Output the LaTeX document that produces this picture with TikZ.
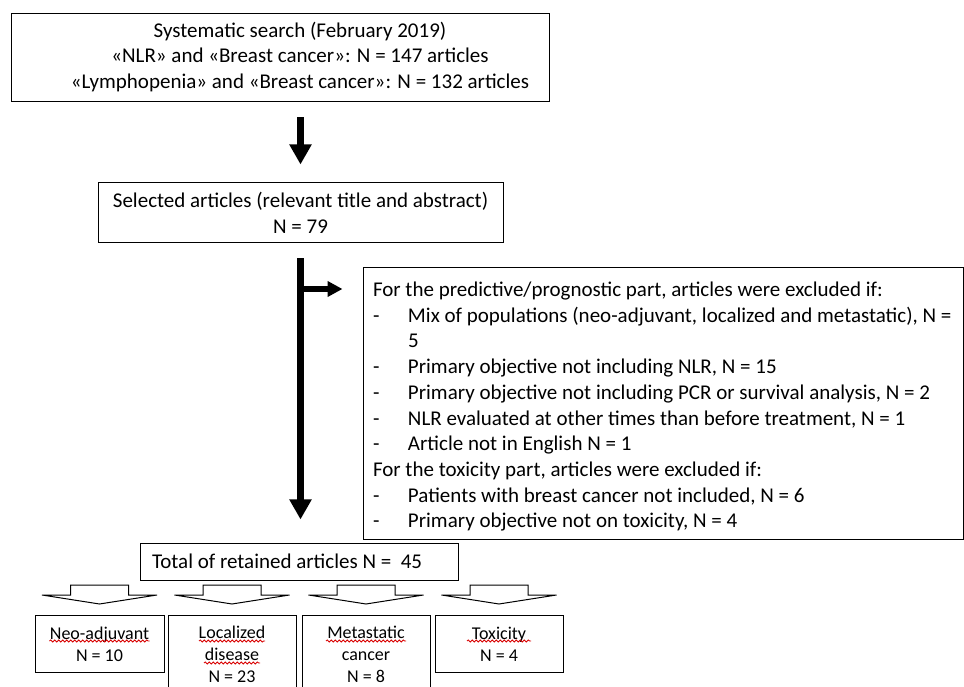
\documentclass[tikz,border=0pt]{standalone}
\usepackage{fontspec}
\setmainfont{Carlito}
\usetikzlibrary{positioning,arrows.meta,decorations.pathmorphing}
\tikzset{
	caja/.style={draw, line width=1pt, fill=white, font=\fontsize{21}{25.6}\selectfont,
		align=center, inner sep=0pt},
	texto/.style={font=\fontsize{21}{25.2}\selectfont, align=center, inner sep=0pt},
	criterio/.style={caja, align=flush left, text width=580pt, inner xsep=10pt,
		minimum height=271pt, font=\fontsize{21}{25.7}\selectfont},
	grupo/.style={draw, line width=1pt, fill=white, font=\fontsize{18}{22}\selectfont,
		align=center, inner sep=0pt, anchor=north},
	flecha/.style={line width=6.5pt, -{Triangle[length=20pt,width=21pt]}},
	flechita/.style={line width=6.5pt, -{Triangle[length=15pt,width=15pt]}},
	bloque/.style={line width=1pt, fill=white, line join=miter},
	falta/.style={red!85!black, line width=0.8pt, decorate,
		decoration={snake, amplitude=1.1pt, segment length=4pt}}
}
\newcommand{\guion}{\makebox[35pt][l]{-}}

\begin{document}
\begin{tikzpicture}[x=1pt, y=1pt]
	\useasboundingbox (0,0) rectangle (964,686);
	
	\node[caja, minimum width=538pt, minimum height=88pt] (busqueda) at (280,628) {};
	\node[texto] (busquedatxt) at ([xshift=20pt, yshift=1pt]busqueda.center)
		{Systematic search (February 2019)\\
		«NLR» and «Breast cancer»: N = 147 articles\\
		«Lymphopenia» and «Breast cancer»: N = 132 articles};
	\node[caja, minimum width=405pt, minimum height=60pt] (seleccion) at (300.5,473)
		{Selected articles (relevant title and abstract)\\ N = 79};
	\node[criterio, minimum width=600pt] (exclusion) at (663,282.5)
		{\rule{0pt}{21pt}For the predictive/prognostic part, articles were excluded if:\\
		\guion Mix of populations (neo-adjuvant, localized and metastatic), N =\\
		\hspace*{35pt}5\\
		\guion Primary objective not including NLR, N = 15\\
		\guion Primary objective not including PCR or survival analysis, N = 2\\
		\guion NLR evaluated at other times than before treatment, N = 1\\
		\guion Article not in English N = 1\\
		For the toxicity part, articles were excluded if:\\
		\guion Patients with breast cancer not included, N = 6\\
		\guion Primary objective not on toxicity, N = 4};
	\node[caja, align=flush left, text width=294pt, inner xsep=12pt, minimum height=37pt]
		(total) at (299,124.5) {Total of retained articles N = ~45};
	
	\node[grupo, minimum width=129pt, minimum height=57pt] (neo) at (99.5,71)
		{Neo-adjuvant\\ N = 10};
	\node[grupo, minimum width=128pt, minimum height=78pt,
		right=3pt of neo.north east, anchor=north west] (loc) {Localized\\ disease\\ N = 23};
	\node[grupo, minimum width=128pt, minimum height=78pt,
		right=5pt of loc.north east, anchor=north west] (meta) {Metastatic\\ cancer\\ N = 8};
	\node[grupo, minimum width=128pt, minimum height=57pt,
		right=4pt of meta.north east, anchor=north west] (tox) {Toxicity\\ N = 4};
	
	% flechas principales
	\draw[flecha, shorten <=15pt, shorten >=18pt] (seleccion.north |- busqueda.south) -- (seleccion.north);
	\draw[flecha, shorten <=15pt, shorten >=23pt] (seleccion.south) -- (seleccion.south |- total.north);
	\coordinate (rama) at (seleccion.south |- 0,397);
	\draw[flechita, shorten >=20pt] (rama) -- (rama -| exclusion.west);
	
	% flechas huecas hacia los grupos
	\foreach \g in {neo,loc,meta,tox}
		\draw[bloque] ([yshift=11pt]\g.north) -- ++(-57.5,9) -- ++(28.5,0) -- ++(0,10)
			-- ++(58,0) -- ++(0,-10) -- ++(28.5,0) -- cycle;
	
	% subrayado del corrector
	\draw[falta] ([xshift=-50pt, yshift=-26pt]neo.north) -- ++(100,0);
	\draw[falta] ([xshift=-33pt, yshift=-26pt]loc.north) -- ++(66,0);
	\draw[falta] ([xshift=-28pt, yshift=-48pt]loc.north) -- ++(56,0);
	\draw[falta] ([xshift=-40pt, yshift=-26pt]meta.north) -- ++(80,0);
	\draw[falta] ([xshift=-32pt, yshift=-26pt]tox.north) -- ++(64,0);
\end{tikzpicture}
\end{document}
